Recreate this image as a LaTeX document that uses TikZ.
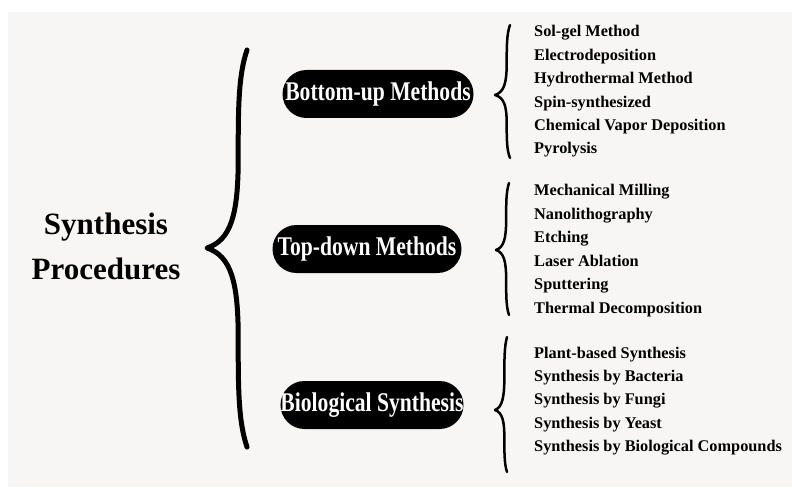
\documentclass[tikz,border=0pt]{standalone}
\usepackage{fontspec}
\setmainfont{Liberation Serif}
\newfontfamily\pillfont[FakeStretch=0.8]{Liberation Serif}
\usetikzlibrary{positioning}
\definecolor{paper}{RGB}{247,246,244}

\begin{document}
\begin{tikzpicture}[x=1pt, y=-1pt,
    % text styles
    title/.style={font=\fontsize{31}{45}\selectfont\bfseries, align=center, inner sep=0pt},
    pill/.style={fill=black, text=white, rounded corners=24pt, minimum height=48pt, inner sep=0pt,
        font=\pillfont\fontsize{27}{30}\selectfont\bfseries},
    item/.style={font=\fontsize{16.3}{18}\selectfont\bfseries, inner sep=0pt, text height=11pt, text depth=4pt},
    % hand-drawn curly brace: up/down/width, tip at the origin
    brace line/.style={line cap=round, line join=round},
    pics/curly/.style args={#1/#2/#3}{code={
        \draw[brace line] (#3,-#1) .. controls (0.78*#3,-0.87*#1) and (0.78*#3,-0.7*#1) .. (0.78*#3,-0.45*#1)
            .. controls (0.78*#3,-0.17*#1) and (0.6*#3,-0.04*#1) .. (0,0)
            .. controls (0.6*#3,0.04*#2) and (0.78*#3,0.17*#2) .. (0.78*#3,0.45*#2)
            .. controls (0.78*#3,0.7*#2) and (0.78*#3,0.87*#2) .. (#3,#2);
    }}]

\useasboundingbox (0,0) rectangle (792,489);
\fill[paper] (8,12) rectangle (792,487);

% Root
\node[title] (root) at (106,246) {Synthesis\\Procedures};
\pic[line width=5pt] (bigbrace) at (207,248) {curly=198/199/40};

% Three method groups
\node[pill, minimum width=191pt] (bottomup) at (378,94) {Bottom-up Methods};
\node[pill, minimum width=189pt] (topdown) at (367,249) {Top-down Methods};
\node[pill, minimum width=182pt] (bio) at (372,405) {Biological Synthesis};

\pic[line width=2.5pt] (bubrace) at (495,95) {curly=70/63/15};
\pic[line width=2.5pt] (tdbrace) at (496,250) {curly=67/65/13};
\pic[line width=2.5pt] (biobrace) at (495,410) {curly=73/62/12};

% Bottom-up list
\node[item, anchor=west] (bu1) at (534,33.5) {Sol-gel Method};
\node[item, below=8pt of bu1.south west, anchor=north west] (bu2) {Electrodeposition};
\node[item, below=8pt of bu2.south west, anchor=north west] (bu3) {Hydrothermal Method};
\node[item, below=8pt of bu3.south west, anchor=north west] (bu4) {Spin-synthesized};
\node[item, below=8pt of bu4.south west, anchor=north west] (bu5) {Chemical Vapor Deposition};
\node[item, below=8pt of bu5.south west, anchor=north west] (bu6) {Pyrolysis};

% Top-down list
\node[item, anchor=west] (td1) at (534,192.5) {Mechanical Milling};
\node[item, below=8pt of td1.south west, anchor=north west] (td2) {Nanolithography};
\node[item, below=8pt of td2.south west, anchor=north west] (td3) {Etching};
\node[item, below=8pt of td3.south west, anchor=north west] (td4) {Laser Ablation};
\node[item, below=8pt of td4.south west, anchor=north west] (td5) {Sputtering};
\node[item, below=8pt of td5.south west, anchor=north west] (td6) {Thermal Decomposition};

% Biological list
\node[item, anchor=west] (bio1) at (534,354.5) {Plant-based Synthesis};
\node[item, below=8pt of bio1.south west, anchor=north west] (bio2) {Synthesis by Bacteria};
\node[item, below=8pt of bio2.south west, anchor=north west] (bio3) {Synthesis by Fungi};
\node[item, below=8pt of bio3.south west, anchor=north west] (bio4) {Synthesis by Yeast};
\node[item, below=8pt of bio4.south west, anchor=north west] (bio5) {Synthesis by Biological Compounds};

\end{tikzpicture}
\end{document}
